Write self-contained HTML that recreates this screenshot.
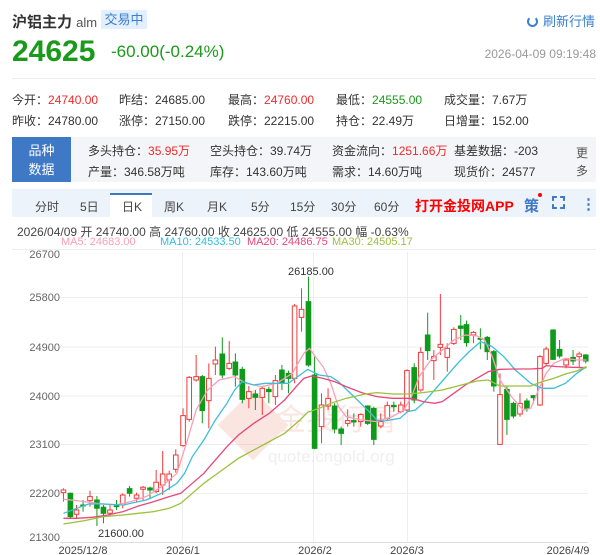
<!DOCTYPE html>
<html><head><meta charset="utf-8"><style>
*{margin:0;padding:0;box-sizing:border-box}
body{width:600px;height:555px;background:#fff;font-family:"Liberation Sans","Noto Sans CJK SC",sans-serif;position:relative;overflow:hidden;color:#333}
.a{position:absolute;white-space:nowrap}
.r{color:#f02a2a}.g{color:#1a9a1a}
.s{font-size:12px;color:#333}
</style></head><body>
<div class="a" style="left:12px;top:11px;font-size:15px;font-weight:bold;color:#333">沪铝主力 <span style="font-weight:normal;font-size:13px;color:#555">alm</span></div>
<div class="a" style="left:101px;top:10px;width:46px;height:19px;background:#e3effc;color:#3a7fd0;font-size:13px;text-align:center;line-height:19px">交易中</div>
<div class="a" style="left:527px;top:11px;font-size:13px;color:#3a7fd0"><span style="display:inline-block;width:11px;height:11px;border:2.5px solid #3a7fd0;border-radius:50%;border-top-color:transparent;margin-right:5px;vertical-align:-1px"></span>刷新行情</div>
<div class="a g" style="left:12px;top:35px;font-size:30px;font-weight:bold">24625</div>
<div class="a g" style="left:111px;top:42px;font-size:17px">-60.00(-0.24%)</div>
<div class="a" style="right:4px;top:47px;font-size:12px;color:#999">2026-04-09 09:19:48</div>
<div class="a" style="left:12px;top:78px;width:584px;height:1px;background:#eee"></div>
<div class="a s" style="left:12px;top:91px">今开：<span class="r">24740.00</span></div>
<div class="a s" style="left:119px;top:91px">昨结：24685.00</div>
<div class="a s" style="left:228px;top:91px">最高：<span class="r">24760.00</span></div>
<div class="a s" style="left:336px;top:91px">最低：<span class="g">24555.00</span></div>
<div class="a s" style="left:444px;top:91px">成交量：7.67万</div>
<div class="a s" style="left:12px;top:112px">昨收：24780.00</div>
<div class="a s" style="left:119px;top:112px">涨停：27150.00</div>
<div class="a s" style="left:228px;top:112px">跌停：22215.00</div>
<div class="a s" style="left:336px;top:112px">持仓：22.49万</div>
<div class="a s" style="left:444px;top:112px">日增量：152.00</div>
<div class="a" style="left:12px;top:137px;width:584px;height:45px;background:#f3f5f8"></div>
<div class="a" style="left:12px;top:137px;width:59px;height:45px;background:#3f78c4;color:#fff;font-size:13px;text-align:center;line-height:19px;padding-top:4px;white-space:normal">品种<br>数据</div>
<div class="a s" style="left:88px;top:142px">多头持仓：<span class="r">35.95万</span></div>
<div class="a s" style="left:210px;top:142px">空头持仓：39.74万</div>
<div class="a s" style="left:332px;top:142px">资金流向：<span class="r">1251.66万</span></div>
<div class="a s" style="left:454px;top:142px">基差数据：-203</div>
<div class="a s" style="left:88px;top:163px">产量：346.58万吨</div>
<div class="a s" style="left:210px;top:163px">库存：143.60万吨</div>
<div class="a s" style="left:332px;top:163px">需求：14.60万吨</div>
<div class="a s" style="left:454px;top:163px">现货价：24577</div>
<div class="a" style="left:576px;top:144px;font-size:12px;color:#555;line-height:18px;white-space:normal;width:13px">更多</div>
<div class="a" style="left:12px;top:189px;width:584px;height:28px;background:#edf3fb"></div>
<div class="a" style="left:110px;top:193px;width:42px;height:24px;background:#fff;border-top:2px solid #3f78c4"></div>
<div class="a" style="top:198px;left:0;width:600px;font-size:12px;color:#444">
<span class="a" style="left:35px">分时</span><span class="a" style="left:80px">5日</span><span class="a" style="left:122px">日K</span><span class="a" style="left:164px">周K</span><span class="a" style="left:207px">月K</span><span class="a" style="left:251px">5分</span><span class="a" style="left:290px">15分</span><span class="a" style="left:331px">30分</span><span class="a" style="left:374px">60分</span>
<span class="a" style="left:415px;top:-2px;color:#f00;font-weight:bold;font-size:14px">打开金投网APP</span>
<span class="a" style="left:524px;top:-3px;color:#3f78c4;font-size:15px;font-weight:bold">策</span>
<span class="a" style="left:538px;top:-5px;width:4px;height:4px;background:#f00;border-radius:50%"></span>
<span class="a" style="left:552px;top:-2px;width:13px;height:13px;border:2px dashed #3f78c4"></span>
<span class="a" style="left:581px;top:-3px;font-size:15px;color:#3f78c4;font-weight:bold">⋮</span>
</div>
<div class="a" style="left:17px;top:223px;font-size:12px;color:#444">2026/04/09 开 24740.00 高 24760.00 收 24625.00 低 24555.00 幅 -0.63%</div>
<div class="a" style="left:61px;top:236px;font-size:11px;color:#f8a0b8">MA5: 24683.00</div>
<div class="a" style="left:160px;top:236px;font-size:11px;color:#2cbfe0">MA10: 24533.50</div>
<div class="a" style="left:247px;top:236px;font-size:11px;color:#e8477a">MA20: 24486.75</div>
<div class="a" style="left:332px;top:236px;font-size:11px;color:#9bc13a">MA30: 24505.17</div>
<div class="a" style="left:12px;top:249px;width:584px;height:1px;background:#eee"></div>
<svg class="a" style="left:0;top:0" width="600" height="555" id="sv">
<g stroke="#eee" stroke-width="1">
<line x1="60" x2="588" y1="297.5" y2="297.5"/><line x1="60" x2="588" y1="347" y2="347"/><line x1="60" x2="588" y1="396" y2="396"/><line x1="60" x2="588" y1="444.5" y2="444.5"/><line x1="60" x2="588" y1="493.5" y2="493.5"/>
<line x1="182.5" x2="182.5" y1="252" y2="542"/><line x1="313.5" x2="313.5" y1="252" y2="542"/><line x1="407.5" x2="407.5" y1="252" y2="542"/>
</g>
<line x1="60" x2="588" y1="542.5" y2="542.5" stroke="#ddd"/>
<g font-size="11" fill="#666" text-anchor="end" font-family="Liberation Sans,sans-serif">
<text x="60" y="258">26700</text><text x="60" y="301">25800</text><text x="60" y="351">24900</text><text x="60" y="400">24000</text><text x="60" y="448">23100</text><text x="60" y="497">22200</text><text x="60" y="541">21300</text>
</g>
<g font-size="11" fill="#444" font-family="Liberation Sans,sans-serif" text-anchor="middle">
<text x="83" y="554">2025/12/8</text><text x="183" y="554">2026/1</text><text x="315" y="554">2026/2</text><text x="407" y="554">2026/3</text><text x="568" y="554">2026/4/9</text>
<text x="311" y="275" fill="#333">26185.00</text><text x="121" y="537" fill="#333">21600.00</text>
</g>
<g opacity="0.13" fill="#e04020">
<rect x="228" y="400" width="50" height="50" transform="rotate(45 253 425)"/>
<text x="276" y="430" font-size="30" font-family="Noto Sans CJK SC,sans-serif">金投行情</text>
<text x="268" y="462" font-size="17" fill="#888" font-family="Liberation Sans,sans-serif">quote.cngold.org</text>
</g>
<g id="cd" transform="translate(0,250) scale(0.3846,0.3333)"></g>
</svg>
<script>
var C=[[165,728,720,715,755,1],[183,730,800,728,805,0],[199,793,780,765,805,1],[216,765,768,750,785,0],[234,752,740,722,770,1],[252,750,775,738,828,0],[269,772,790,765,820,0],[286,790,780,765,800,1],[303,765,770,750,780,0],[319,765,735,730,775,1],[337,716,730,708,740,0],[355,745,735,728,755,1],[372,718,712,708,750,1],[390,714,720,710,748,0],[406,725,697,660,730,1],[423,705,672,603,735,1],[440,690,672,662,720,1],[457,658,615,598,668,1],[476,587,497,475,590,1],[492,508,382,378,515,1],[510,390,380,315,395,1],[526,380,482,375,520,0],[543,452,385,340,535,1],[560,342,330,290,375,1],[578,312,375,262,385,0],[596,355,340,273,360,1],[612,336,375,310,410,0],[630,358,448,350,460,0],[647,445,425,408,475,1],[664,432,442,420,480,0],[682,442,415,410,495,1],[699,418,425,410,460,0],[716,440,392,375,465,1],[733,360,400,345,420,0],[750,370,385,362,430,0],[766,385,168,162,400,1],[784,202,178,115,245,1],[802,155,345,80,350,0],[818,375,595,320,598,0],[836,530,465,430,580,1],[853,468,445,415,480,1],[870,468,537,460,550,0],[887,537,550,530,585,0],[904,520,512,478,530,1],[920,512,516,490,530,0],[938,515,493,490,530,1],[956,468,520,466,525,0],[972,475,568,470,585,0],[990,528,515,490,535,1],[1007,505,467,455,510,1],[1024,466,470,455,485,0],[1042,485,465,455,490,1],[1058,480,362,358,485,1],[1077,353,450,340,460,0],[1094,420,307,292,425,1],[1112,255,302,188,330,0],[1128,332,320,300,390,1],[1145,292,283,132,315,1],[1163,322,295,280,365,1],[1180,280,238,232,285,1],[1198,228,235,195,270,0],[1213,224,278,212,290,0],[1231,255,247,243,280,1],[1249,265,268,235,298,0],[1267,262,305,258,330,0],[1284,305,408,300,425,0],[1300,583,434,370,583,1],[1318,418,508,410,555,0],[1335,460,498,455,505,0],[1352,492,460,430,500,1],[1370,453,475,445,485,0],[1387,437,443,435,460,0],[1404,465,320,315,468,1],[1420,340,297,290,345,1],[1438,240,328,238,330,0],[1455,298,318,270,325,0],[1472,345,330,325,355,1],[1490,322,333,300,345,0],[1506,320,312,305,355,1],[1523,315,333,312,340,0]];
var L=[["#f8a0b8","165,748 200,752 250,760 300,765 340,755 380,740 420,710 460,670 490,560 510,480 540,420 570,390 610,380 640,400 680,410 720,400 760,370 790,310 805,295 820,320 840,350 860,400 880,470 900,500 940,510 980,515 1020,500 1050,480 1070,440 1090,380 1120,330 1150,300 1180,270 1210,255 1240,258 1260,270 1280,320 1300,390 1330,440 1360,480 1380,475 1400,420 1420,370 1440,340 1470,325 1500,330 1525,330"],["#3bbfd8","165,790 200,775 230,762 270,762 320,765 380,750 420,730 460,700 480,670 500,620 530,570 560,510 590,460 610,420 630,395 660,405 690,400 720,400 750,400 780,375 800,358 830,375 860,380 880,395 920,440 960,485 980,510 1000,513 1040,505 1060,485 1080,480 1100,460 1130,420 1160,380 1190,340 1220,305 1250,275 1280,290 1310,320 1340,360 1380,400 1410,415 1440,415 1470,400 1500,370 1525,350"],["#e8477a","165,805 200,805 240,802 280,795 320,785 360,768 400,755 440,740 470,730 500,700 530,670 560,630 590,590 620,555 660,520 700,490 740,450 770,410 790,385 810,378 840,385 870,395 900,410 940,428 980,440 1020,445 1060,445 1080,448 1100,455 1130,460 1150,455 1180,430 1210,405 1240,385 1270,365 1300,358 1340,357 1380,357 1410,355 1420,347 1450,350 1490,352 1525,353"],["#9bc13a","165,822 220,812 270,800 320,795 360,790 400,785 440,775 470,760 500,730 530,700 560,675 590,650 620,625 660,600 700,575 740,550 760,530 780,510 800,487 830,475 860,460 900,445 950,432 980,428 1020,432 1060,432 1100,428 1150,420 1200,405 1240,393 1270,390 1300,408 1340,408 1380,408 1410,395 1440,385 1470,372 1500,363 1525,350"]];
var h='';
C.forEach(function(c){var col=c[5]?'#f23a3a':'#0f9a1a';var t=Math.min(c[1],c[2]),b=Math.max(c[1],c[2]);if(b-t<3){b=t+3;}
h+='<line x1="'+c[0]+'" x2="'+c[0]+'" y1="'+c[3]+'" y2="'+t+'" stroke="'+col+'" vector-effect="non-scaling-stroke"/>';
h+='<line x1="'+c[0]+'" x2="'+c[0]+'" y1="'+b+'" y2="'+c[4]+'" stroke="'+col+'" vector-effect="non-scaling-stroke"/>';
h+='<rect x="'+(c[0]-6)+'" y="'+t+'" width="12" height="'+(b-t)+'" fill="'+(c[5]?'#fff':col)+'" stroke="'+col+'" vector-effect="non-scaling-stroke"/>';});
L.forEach(function(l){h+='<polyline fill="none" stroke="'+l[0]+'" stroke-width="1.3" vector-effect="non-scaling-stroke" points="'+l[1]+'"/>';});
document.getElementById('cd').innerHTML=h;
</script>
</body></html>
